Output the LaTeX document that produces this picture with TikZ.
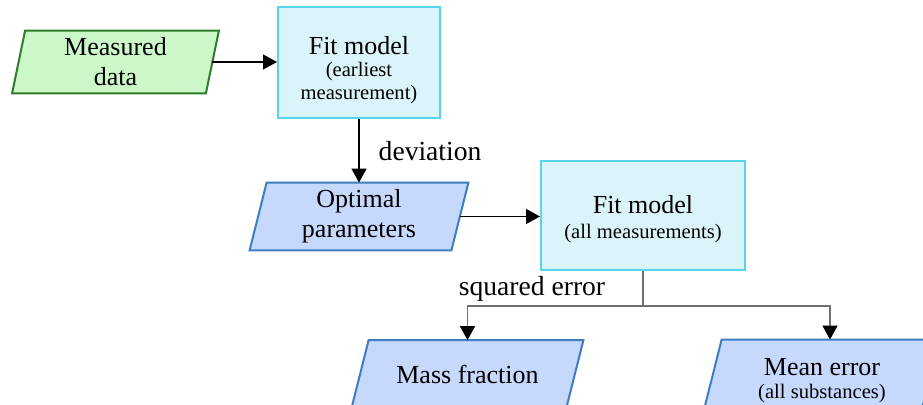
\documentclass[tikz,border=0pt]{standalone}
\usepackage{fontspec}
\setmainfont{Liberation Serif}
\usepackage{tikz}
\usetikzlibrary{arrows.meta,backgrounds}

\definecolor{dataFill}{HTML}{CCF7C8}
\definecolor{dataLine}{HTML}{2E7D2A}
\definecolor{fitFill}{HTML}{DAF4F9}
\definecolor{fitLine}{HTML}{55D6EB}
\definecolor{paramFill}{HTML}{C6D9FC}
\definecolor{paramLine}{HTML}{3D7EC0}
\definecolor{splitGray}{HTML}{707070}

\newcommand{\subtext}[1]{{\fontsize{10.3}{11.5}\selectfont #1}}

\begin{document}
\begin{tikzpicture}[x=0.5pt,y=-0.5pt,
  mainfont/.style={font=\fontsize{13}{15}\selectfont},
  labelfont/.style={font=\fontsize{13.8}{15}\selectfont},
  paratext/.style={rectangle, minimum height=33.5pt, inner sep=0pt,
    align=center, mainfont},
  datashape/.style={draw=dataLine, fill=dataFill, line width=1pt},
  paramshape/.style={draw=paramLine, fill=paramFill, line width=1pt},
  fitbox/.style={rectangle, draw=fitLine, fill=fitFill, line width=1pt,
    align=center, inner sep=0pt, mainfont},
  flow/.style={line width=0.7pt, -{Triangle[length=7pt,width=7.5pt]}},
  splitline/.style={line width=0.8pt, draw=splitGray}]

  \useasboundingbox (0,0) rectangle (923,405);

  % Input and first fit.
  \node[paratext, minimum width=96.5pt, minimum height=31pt] (meas) at (115.5,62) {Measured\\data};
  \node[fitbox, minimum width=81pt, minimum height=55.5pt] (fit1) at (359,62.5)
    {\rule{0pt}{17pt}Fit model\\[-4pt]\subtext{(earliest}\\[-3.5pt]\subtext{measurement)}};

  % Parameters and second fit.
  \node[paratext, minimum width=100.5pt] (opt) at (359,216.5) {Optimal\\parameters};
  \node[fitbox, minimum width=102pt, minimum height=54.5pt] (fit2) at (643,215.5)
    {\rule{0pt}{12.9pt}Fit model\\[-2.5pt]\subtext{(all measurements)}};

  % Results, cut by the lower edge.
  \node[paratext, minimum width=107pt] (mass) at (467.5,374) {Mass fraction};
  \node[paratext, minimum width=108.5pt] (mean) at (822,373.5)
    {\rule{0pt}{15.4pt}Mean error\\[-3.5pt]\subtext{(all substances)}};

  % Slanted outlines behind the texts.
  \begin{scope}[on background layer]
    \foreach \n/\look/\s in {meas/datashape/3.25pt, opt/paramshape/4.25pt,
                             mass/paramshape/4.25pt, mean/paramshape/4.25pt}
      \draw[\look] ([xshift=\s]\n.north west) -- ([xshift=\s]\n.north east)
        -- ([xshift=-\s]\n.south east) -- ([xshift=-\s]\n.south west) -- cycle;
  \end{scope}

  % Connectors.
  \draw[flow] (meas.east) -- (meas.east -| fit1.west);
  \draw[flow] (fit1.south) -- node[anchor=west, inner sep=0pt, xshift=9.5pt, labelfont] (devlabel) {deviation} (opt.north);
  \draw[flow] (opt.east) -- (opt.east -| fit2.west);

  % Split of the second fit.
  \draw[splitline] (fit2.south) -- ++(0,35) coordinate (split);
  \draw[splitline, flow, -{Triangle[length=7pt,width=7.5pt,color=black]}] (split) -| (mass.north);
  \draw[splitline, flow, -{Triangle[length=7pt,width=7.5pt,color=black]}] (split) -| ([xshift=4pt]mean.north);
  \node[labelfont] (sqlabel) at (532,289) {squared error};

\end{tikzpicture}
\end{document}
